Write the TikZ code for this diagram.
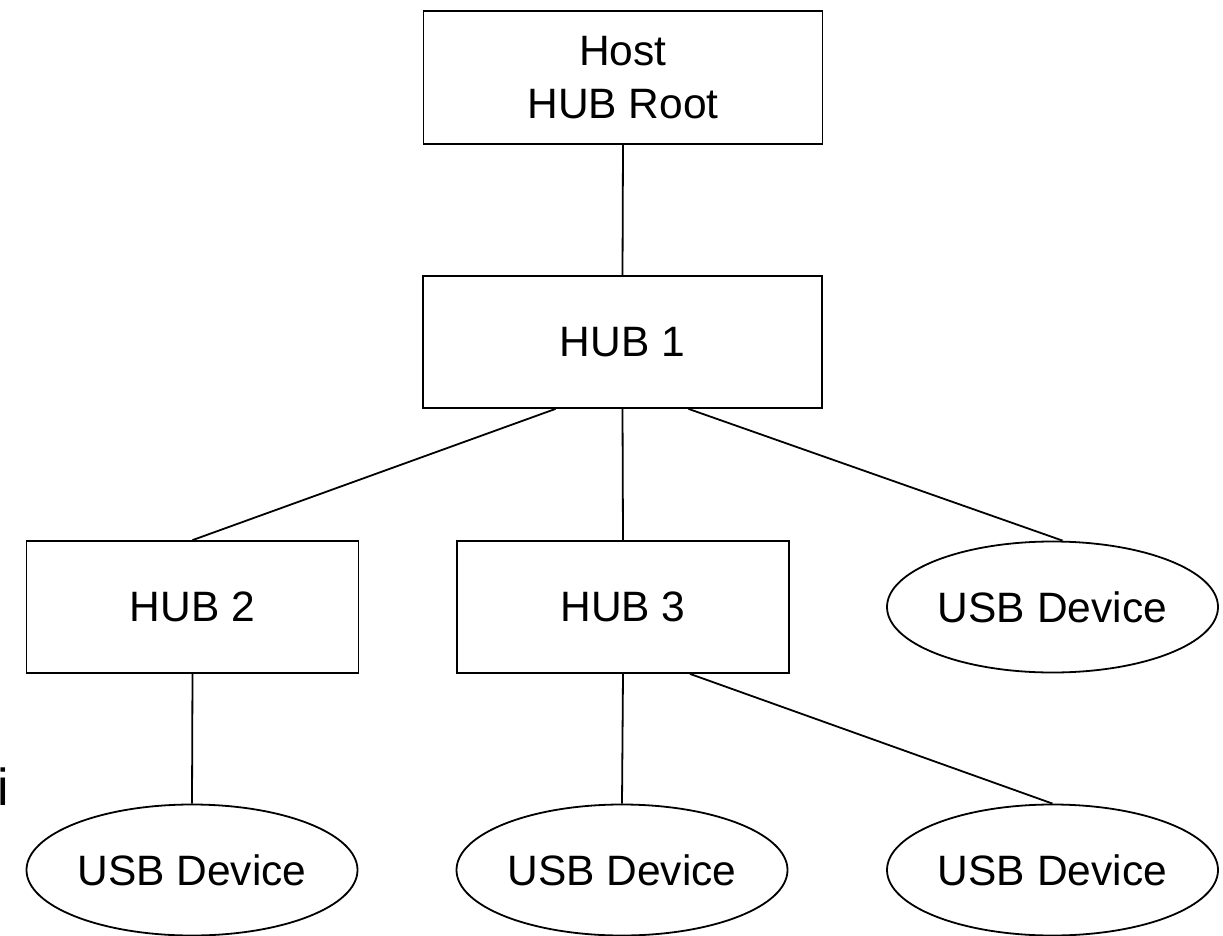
\documentclass[tikz,border=0pt]{standalone}
\usepackage{fontspec}
\setmainfont{Liberation Sans}
\usetikzlibrary{shapes.geometric}
\begin{document}
\begin{tikzpicture}[x=1pt,y=-1pt,
  every node/.style={font=\fontsize{42.5}{53}\selectfont, text=black},
  box/.style={draw, line width=1.8pt, rectangle, inner sep=0pt, minimum width=399pt, minimum height=133pt, align=center},
  sbox/.style={draw, line width=1.8pt, rectangle, inner sep=0pt, minimum width=332pt, minimum height=132pt},
  dev/.style={draw, line width=1.8pt, ellipse, inner sep=0pt, minimum width=331pt, minimum height=131pt},
  link/.style={line width=1.8pt}]
\useasboundingbox (0,0) rectangle (1223,936);
\node[box] (host) at (623,77.5) {Host\\HUB Root};
\node[box, minimum height=132pt] (hub1) at (622.5,342) {HUB 1};
\node[sbox] (hub2) at (192.5,607) {HUB 2};
\node[sbox] (hub3) at (623,607) {HUB 3};
\node[dev] (devr) at (1052.5,607) {USB Device};
\node[dev] (dev1) at (192,870) {USB Device};
\node[dev] (dev2) at (622,870) {USB Device};
\node[dev] (dev3) at (1052.5,870) {USB Device};
\node[anchor=base west, inner sep=0pt, font=\fontsize{52}{60}\selectfont] (frag) at (-3,805) {i};
\draw[link] (host.south) -- (hub1.north);
\draw[link] ([xshift=-67pt]hub1.south) -- (hub2.north);
\draw[link] (hub1.south) -- (hub3.north);
\draw[link] ([xshift=66pt]hub1.south) -- ([xshift=10pt]devr.north);
\draw[link] (hub2.south) -- (dev1.north);
\draw[link] (hub3.south) -- (dev2.north);
\draw[link] ([xshift=67pt]hub3.south) -- (dev3.north);
\end{tikzpicture}
\end{document}
